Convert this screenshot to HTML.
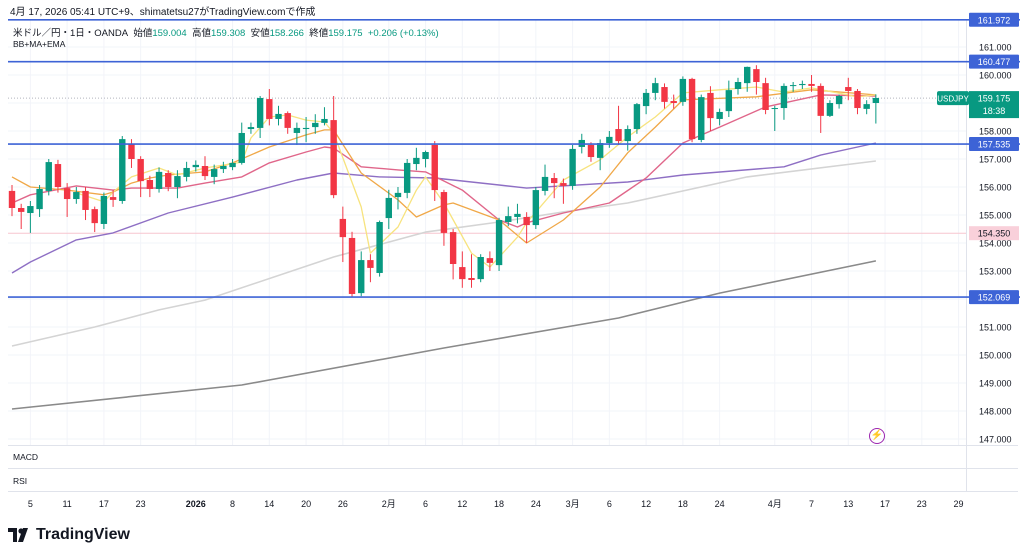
<!DOCTYPE html>
<html><head><meta charset="utf-8">
<style>
body{margin:0;background:#fff;font-family:"Liberation Sans","Noto Sans CJK JP",sans-serif;}
#wrap{position:relative;width:1024px;height:556px;overflow:hidden;}
svg{position:absolute;left:0;top:0}
</style></head><body>
<div id="wrap">
<svg id="chart" width="1024" height="556"></svg>
</div>
<script>
const opens=[155.86,155.25,155.07,155.21,155.86,156.82,155.96,155.57,155.86,155.21,154.68,155.64,155.5,157.54,157.0,156.25,155.93,156.5,156.0,156.36,156.71,156.75,156.36,156.64,156.71,156.86,158.07,158.11,159.14,158.43,158.64,157.93,158.07,158.14,158.29,158.39,154.86,154.18,152.21,153.39,152.93,154.89,155.64,155.79,156.82,157.0,157.5,155.82,154.39,153.14,152.75,152.71,153.46,153.21,154.75,154.93,154.93,154.64,155.86,156.32,156.14,156.04,157.43,157.5,157.04,157.57,158.07,157.64,158.07,158.89,159.36,159.57,159.07,159.04,159.86,157.68,159.36,158.43,158.71,159.5,159.71,160.21,159.71,158.79,158.82,159.61,159.64,159.68,159.61,158.54,158.96,159.57,159.43,158.79,159.0];
const closes=[155.25,155.11,155.32,155.93,156.89,156.0,155.57,155.82,155.18,154.71,155.68,155.54,157.71,157.0,156.21,155.93,156.54,156.0,156.39,156.68,156.79,156.39,156.64,156.75,156.86,157.93,158.14,159.18,158.43,158.61,158.11,158.11,158.11,158.29,158.43,155.71,154.21,152.18,153.39,153.11,154.75,155.61,155.79,156.86,157.04,157.25,155.89,154.36,153.25,152.71,152.68,153.5,153.29,154.82,154.96,155.04,154.64,155.89,156.36,156.14,156.04,157.36,157.68,157.07,157.57,157.79,157.64,158.07,158.96,159.36,159.71,159.04,159.0,159.86,157.71,159.21,158.46,158.68,159.46,159.75,160.29,159.75,158.75,158.82,159.61,159.64,159.68,159.61,158.54,159.0,159.25,159.43,158.82,158.96,159.18];
const highs=[156.07,155.4,155.5,156.07,157.0,156.97,156.14,156.0,156.0,155.3,155.8,155.89,157.82,157.71,157.1,156.4,156.7,156.6,156.6,156.9,156.95,157.1,156.8,156.9,157.0,158.3,158.3,159.25,159.5,158.9,158.7,158.3,158.5,158.6,158.85,159.25,155.3,154.4,153.7,153.6,154.8,155.9,156.0,157.0,157.4,157.3,157.64,155.9,154.5,153.7,153.6,153.6,153.7,154.9,155.3,155.4,155.1,156.0,156.8,156.5,156.3,157.5,157.9,157.6,157.7,158.0,158.9,158.2,159.0,159.5,159.9,159.7,159.3,159.95,159.9,159.3,159.6,158.8,159.8,159.9,160.3,160.35,159.9,158.9,159.7,159.75,159.8,160.0,159.7,159.1,159.3,159.9,159.5,159.1,159.308];
const lows=[154.96,154.5,154.36,154.93,155.7,155.8,154.93,155.4,154.82,154.39,154.5,155.29,155.4,156.68,155.64,155.64,155.8,155.85,155.6,156.2,156.55,156.25,156.1,156.5,156.6,156.8,157.9,157.75,158.2,158.2,157.9,157.5,157.6,157.9,158.2,155.6,153.32,152.07,152.1,152.6,152.8,154.5,155.2,155.6,156.6,156.7,155.5,153.9,152.7,152.4,152.4,152.6,153.0,153.0,154.6,154.7,154.0,154.5,155.7,155.6,155.4,155.9,157.2,156.9,156.6,157.4,157.5,157.3,157.9,158.6,159.1,158.8,158.8,158.9,157.6,157.6,158.0,158.2,158.5,159.3,159.4,159.3,158.6,158.0,158.4,159.4,159.5,159.4,157.93,158.5,158.8,159.1,158.6,158.6,158.266];
const yellowIdx=[7,10,11,13,16,18,21,25,26,28,30,32,34,35,38,39,42,44,45,47,50,52,55,56,60,64,67,70,73,77,81,84,87,92,94];
const yellowVal=[155.79,155.47,155.82,156.36,156.68,156.43,156.68,156.89,157.75,158.5,158.57,158.39,158.32,157.93,155.29,153.64,154.57,155.89,156.36,155.43,153.64,153.14,154.21,154.72,156.25,156.97,157.79,158.5,159.36,159.47,159.57,159.39,159.54,159.22,159.29];
const orangeIdx=[0,2,6,10,11,13,15,17,21,24,28,32,34,35,38,42,44,47,48,53,56,60,64,67,70,73,81,87,94];
const orangeVal=[156.36,156.0,155.89,155.72,155.82,156.14,156.32,156.43,156.54,156.86,157.43,157.86,158.04,158.04,156.5,155.54,154.93,155.36,155.43,154.82,154.0,154.82,156.0,157.22,158.14,159.11,159.22,159.47,159.29];
const pinkIdx=[0,2,7,11,13,18,21,25,28,32,34,35,38,42,45,49,53,55,56,60,65,69,73,77,82,88,94];
const pinkVal=[155.43,155.72,156.04,155.89,155.96,155.96,156.14,156.36,156.86,157.25,157.43,157.39,156.72,156.61,156.54,155.89,154.82,154.57,154.72,155.07,155.43,156.32,157.57,158.14,158.86,159.29,159.25];
const purpleIdx=[0,2,7,11,17,24,31,35,40,46,53,56,67,73,84,88,94];
const purpleVal=[152.93,153.32,154.11,154.36,155.07,155.64,156.25,156.5,156.36,156.32,156.07,155.96,156.18,156.43,156.72,157.14,157.57];
const lgrayIdx=[0,9,16,21,35,45,53,60,67,80,94];
const lgrayVal=[150.32,151.0,151.61,151.96,153.5,154.39,154.75,155.11,155.43,156.36,156.93];
const dgrayIdx=[0,25,47,66,77,94];
const dgrayVal=[148.07,148.93,150.25,151.32,152.21,153.36];
const priceTicks=[161,160,159,158,157,156,155,154,153,152,151,150,149,148,147];
const levels=[161.972,160.477,157.535,152.069];
const pinkLevel=154.350;
const lastPrice=159.175;
const dateLabels=["5","11","17","23","2026","8","14","20","26","2月","6","12","18","24","3月","6","12","18","24","4月","7","13","17","23","29"];
const dateIdx=[2,6,10,14,20,24,28,32,36,41,45,49,53,57,61,65,69,73,77,83,87,91,95,99,103];

const NS="http://www.w3.org/2000/svg";
const svg=document.getElementById('chart');
const X0=12,DX=9.19;
const xs=i=>X0+i*DX;
const ys=p=>47+(161-p)*28;
function mk(tag,attrs,parent){const e=document.createElementNS(NS,tag);for(const k in attrs)e.setAttribute(k,attrs[k]);(parent||svg).appendChild(e);return e;}
function txt(x,y,s,attrs){const t=mk('text',Object.assign({x:x,y:y},attrs||{}));t.textContent=s;return t;}

const grid=mk('g',{});


priceTicks.forEach(p=>mk('line',{x1:8,x2:966,y1:ys(p),y2:ys(p),stroke:'#f2f4f9','stroke-width':1},grid));
dateIdx.forEach(i=>mk('line',{x1:xs(i),x2:xs(i),y1:20,y2:445,stroke:'#f2f4f9','stroke-width':1},grid));

mk('line',{x1:8,x2:1018,y1:445.5,y2:445.5,stroke:'#e0e3eb'});
mk('line',{x1:8,x2:1018,y1:468.5,y2:468.5,stroke:'#e0e3eb'});
mk('line',{x1:8,x2:1018,y1:491.5,y2:491.5,stroke:'#e0e3eb'});
mk('line',{x1:966.5,x2:966.5,y1:20,y2:491,stroke:'#e0e3eb'});

const pl=mk('line',{x1:8,x2:966,y1:ys(pinkLevel),y2:ys(pinkLevel),stroke:'#f7c5cf','stroke-width':1});


const lp=mk('line',{x1:8,x2:966,y1:ys(lastPrice),y2:ys(lastPrice),stroke:'#b2b5be','stroke-width':1,'stroke-dasharray':'1,2'});



function line(idx,val,color,w,name){
  const d=idx.map((i,k)=>(k?'L':'M')+xs(i).toFixed(1)+','+ys(val[k]).toFixed(1)).join(' ');
  const p=mk('path',{d:d,fill:'none',stroke:color,'stroke-width':w,'stroke-linejoin':'round'});
  
  
}
line(dgrayIdx,dgrayVal,'#8a8a8a',1.6,'ma-long-dark-gray');
line(lgrayIdx,lgrayVal,'#d4d4d4',1.6,'ma-light-gray');
line(purpleIdx,purpleVal,'#8e6fc4',1.4,'ma-purple');
line(pinkIdx,pinkVal,'#e0668a',1.4,'ma-pink');
line(orangeIdx,orangeVal,'#f0a848',1.3,'ema-orange');
line(yellowIdx,yellowVal,'#f7e37e',1.3,'ema-yellow');

const cg=mk('g',{});


opens.forEach((o,i)=>{
  const c=closes[i],up=c>=o,col=up?'#089981':'#f23645',x=xs(i);
  const g=mk('g',{},cg);
  
  
  mk('line',{x1:x,x2:x,y1:ys(highs[i]),y2:ys(lows[i]),stroke:col,'stroke-width':1},g);
  const t=ys(Math.max(o,c)),b=ys(Math.min(o,c));
  mk('rect',{x:x-3.2,y:t,width:6.4,height:Math.max(1,b-t),fill:col},g);
});

levels.forEach(p=>{
  const l=mk('line',{x1:8,x2:1020,y1:ys(p),y2:ys(p),stroke:'#3d63d6','stroke-width':1.6});
  
  
});

priceTicks.forEach(p=>{
  const t=txt(979,ys(p)+3.5,p.toFixed(3),{'font-size':9,fill:'#131722'});
  
  
});
levels.forEach(p=>{
  const g=mk('g',{});
  
  
  mk('rect',{x:969,y:ys(p)-7,width:50,height:14,fill:'#3d63d6',rx:1},g);
  txt(994,ys(p)+3.5,p.toFixed(3),{'font-size':9,fill:'#fff','text-anchor':'middle'});
});
{
  const g=mk('g',{});
  
  
  mk('rect',{x:969,y:ys(pinkLevel)-7,width:50,height:14,fill:'#f9d0da'},g);
  txt(994,ys(pinkLevel)+3.5,pinkLevel.toFixed(3),{'font-size':9,fill:'#131722','text-anchor':'middle'});
}
{
  const g=mk('g',{});
  
  
  mk('rect',{x:937,y:ys(lastPrice)-7,width:32,height:14,fill:'#089981',rx:2},g);
  txt(953,ys(lastPrice)+3.5,'USDJPY',{'font-size':8,fill:'#fff','text-anchor':'middle'});
  mk('rect',{x:969,y:ys(lastPrice)-7,width:50,height:27,fill:'#089981'},g);
  txt(994,ys(lastPrice)+3.5,lastPrice.toFixed(3),{'font-size':9,fill:'#fff','text-anchor':'middle'});
  txt(994,ys(lastPrice)+16,'18:38',{'font-size':9,fill:'#fff','text-anchor':'middle'});
}

dateLabels.forEach((s,k)=>{
  const t=txt(xs(dateIdx[k]),507,s,{'font-size':9,fill:'#131722','text-anchor':'middle','font-weight':s==='2026'?'bold':'normal'});
  
  
});
</script>
<div style="position:absolute;left:10px;top:3px;font-size:10px;color:#131722">4月 17, 2026 05:41 UTC+9、shimatetsu27がTradingView.comで作成</div>
<div style="position:absolute;left:13px;top:25px;font-size:9.5px;color:#131722;white-space:nowrap">米ドル／円・1日・OANDA&nbsp; 始値<span style="color:#089981">159.004</span>&nbsp; 高値<span style="color:#089981">159.308</span>&nbsp; 安値<span style="color:#089981">158.266</span>&nbsp; 終値<span style="color:#089981">159.175&nbsp; +0.206 (+0.13%)</span></div>
<div style="position:absolute;left:13px;top:39px;font-size:8.5px;color:#131722">BB+MA+EMA</div>
<div style="position:absolute;left:13px;top:452px;font-size:8.5px;color:#131722">MACD</div>
<div style="position:absolute;left:13px;top:476px;font-size:8.5px;color:#131722">RSI</div>
<div style="position:absolute;left:869px;top:428px;width:14px;height:14px;border:1.5px solid #9c27b0;border-radius:50%;color:#9c27b0;font-size:10px;line-height:14px;text-align:center">⚡</div>
<div style="position:absolute;left:8px;top:524px;height:22px;display:flex;align-items:center">
<svg width="24" height="14" viewBox="0 0 24 14" style="position:static"><path d="M0 0h9v14H5V4H0z M10 14 L15 0 h5 l-5 14z" fill="#131722"/><circle cx="13" cy="3" r="2.6" fill="#131722"/></svg>
<span style="font-size:16px;font-weight:bold;color:#131722;margin-left:4px">TradingView</span></div>
</body></html>
